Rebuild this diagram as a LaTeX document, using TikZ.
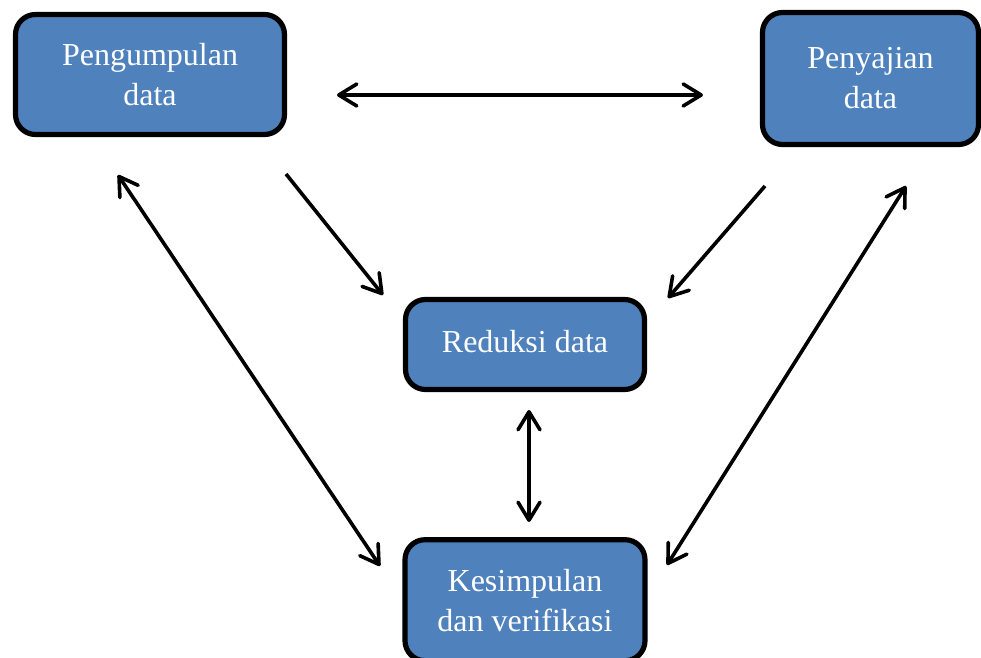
\documentclass[tikz,border=0pt]{standalone}
\usepackage{fontspec}
\setmainfont{Liberation Serif}
\usepackage{tikz}
\usetikzlibrary{arrows.meta,positioning}

\definecolor{boxblue}{HTML}{4F81BD}

\tikzset{
  box/.style={draw=black, line width=2.6pt, fill=boxblue, rounded corners=10pt,
    text=white, align=center, font=\fontsize{16}{20}\selectfont, inner sep=0pt},
  link/.style={line width=1.8pt, draw=black,
    {Straight Barb[length=9pt,width=11pt,round]}-{Straight Barb[length=9pt,width=11pt,round]}},
  onelink/.style={line width=1.8pt, draw=black, -{Straight Barb[length=9pt,width=11pt,round]}}
}

\begin{document}
\begin{tikzpicture}[x=0.5pt, y=-0.5pt]
\useasboundingbox (0,0) rectangle (981,658);

% boxes
\node[box, minimum width=134.5pt, minimum height=60pt] (kumpul) at (150,74.5) {Pengumpulan\\data};%
\node[box, minimum width=108pt, minimum height=66pt] (saji) at (870.5,78.5) {Penyajian\\data};%
\node[box, minimum width=119.5pt, minimum height=45pt] (reduksi) at (525,344.5) {\raisebox{3pt}{Reduksi data}};%
\node[box, minimum width=120pt, minimum height=60.5pt, below=72.5pt of reduksi] (simpul) {Kesimpulan\\dan verifikasi};%

% free ends of the arrows
\coordinate (h1) at (337,95);
\coordinate (h2) at (703,95);
\coordinate (a1) at (286,174);
\coordinate (a2) at (383,295);
\coordinate (b1) at (765,186);
\coordinate (b2) at (668,298);
\coordinate (l1) at (118,175);
\coordinate (l2) at (380,566);
\coordinate (r1) at (906,186);
\coordinate (r2) at (667,565);
\coordinate (v1) at (529,410);
\coordinate (v2) at (529,522);

% arrows
\draw[link] (h1) -- (h2);
\draw[onelink] (a1) -- (a2);
\draw[onelink] (b1) -- (b2);
\draw[link] (l1) -- (l2);
\draw[link] (r1) -- (r2);
\draw[link] (v1) -- (v2);

\end{tikzpicture}
\end{document}
